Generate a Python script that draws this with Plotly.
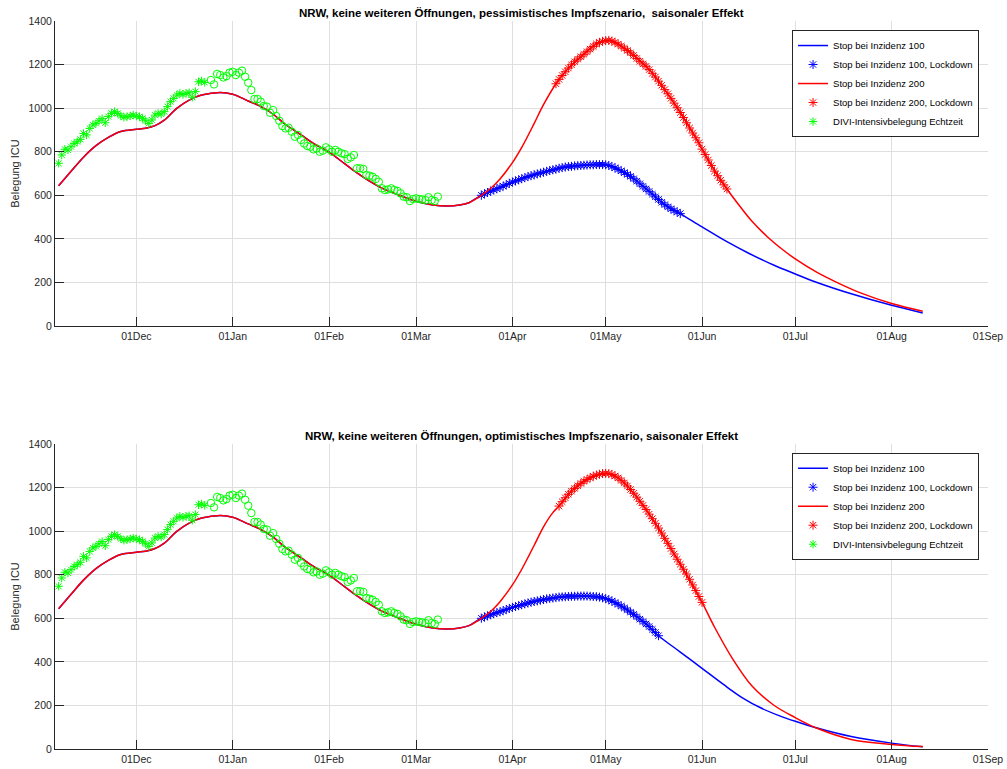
import pandas as pd
import plotly.graph_objects as go

# ---------------- data ----------------
# DIVI real-time ICU occupancy NRW (daily values)
divi_star_start = "2020-11-06"
divi_star = [747, 785, 811, 808, 823, 838, 846, 857, 884, 877, 907, 923, 930, 942, 952,
             933, 961, 976, 984, 976, 965, 958, 961, 964, 968,
             964, 961, 953, 942, 930, 946, 968, 976, 973, 984, 1007, 1030, 1045, 1060,
             1068, 1063, 1068, 1071, 1050, 1076, 1121, 1125, 1118]
divi_circle_start = "2020-12-25"
divi_circle = [1129, 1109, 1157, 1152, 1141, 1147, 1163, 1167,
               1152, 1163, 1172, 1144, 1117, 1083, 1042, 1042, 1030, 1010, 1007, 979, 991,
               964, 942, 918, 907, 910, 892, 869, 877, 854, 838, 826, 823, 811, 815, 800,
               805, 820,
               811, 800, 808, 800, 793, 789, 767, 774, 785, 724, 724, 721, 693, 690, 685,
               675, 662, 632, 624, 627, 632, 624, 620, 609, 594, 591, 574, 583,
               586, 583, 581, 578, 591, 578, 574, 594]

# shared model path (both scenarios) until the split
base_dates = ["2020-11-06", "2020-11-10", "2020-11-14", "2020-11-18", "2020-11-22",
              "2020-11-26", "2020-12-01", "2020-12-04", "2020-12-07", "2020-12-10",
              "2020-12-14", "2020-12-18", "2020-12-22", "2020-12-28", "2021-01-01",
              "2021-01-06", "2021-01-10", "2021-01-14", "2021-01-18", "2021-01-23",
              "2021-01-27", "2021-02-01", "2021-02-06", "2021-02-10", "2021-02-14",
              "2021-02-18", "2021-02-24", "2021-03-01", "2021-03-06", "2021-03-11",
              "2021-03-15", "2021-03-18", "2021-03-22"]
base_vals = [644, 710, 775, 828, 866, 893, 903, 908, 920, 945, 999, 1037, 1060, 1072, 1064,
             1033, 1008, 972, 925, 877, 838, 798, 745, 703, 665, 633, 598, 573, 557, 551,
             555, 566, 600]

# ---- pessimistic vaccination scenario ----
pess100_dates = ["2021-03-28", "2021-04-04", "2021-04-10", "2021-04-16", "2021-04-22",
                 "2021-04-28", "2021-05-02", "2021-05-06", "2021-05-10", "2021-05-15",
                 "2021-05-20", "2021-05-25", "2021-06-01", "2021-06-09", "2021-06-16",
                 "2021-06-24", "2021-07-01", "2021-07-08", "2021-07-19", "2021-08-01",
                 "2021-08-11"]
pess100_vals = [636, 676, 702, 724, 736, 741, 737, 712, 676, 618, 557, 516, 455, 387, 334,
                280, 239, 200, 148, 95, 60]
pess200_dates = ["2021-03-24", "2021-03-26", "2021-03-28", "2021-04-01", "2021-04-04",
                 "2021-04-08", "2021-04-11", "2021-04-15", "2021-04-18", "2021-04-23",
                 "2021-04-28", "2021-05-02", "2021-05-06", "2021-05-10", "2021-05-15",
                 "2021-05-20", "2021-05-25", "2021-05-30", "2021-06-04", "2021-06-09",
                 "2021-06-13", "2021-06-17", "2021-06-22", "2021-06-27", "2021-07-01",
                 "2021-07-08", "2021-07-15", "2021-07-22", "2021-08-01", "2021-08-11"]
pess200_vals = [620, 645, 675, 750, 820, 930, 1016, 1112, 1167, 1236, 1295, 1311, 1285,
                1242, 1177, 1085, 980, 864, 737, 629, 553, 482, 410, 350, 308, 246, 196,
                152, 103, 68]
pess100_lock_start = "2021-03-22"
pess100_lock = [600, 607, 613, 619, 625, 630, 636, 642, 648, 655,
                661, 666, 671, 676, 681, 686, 690, 694, 698, 702, 706, 710, 714, 717, 720,
                724, 727, 730, 732, 733, 735, 736, 737, 738, 739, 740, 740, 741, 741, 741,
                740, 737, 732, 726, 719, 712, 704, 696, 687, 676, 665, 653, 641, 629, 618,
                605, 593, 581, 568, 557, 547, 538, 530, 523, 516]
pess200_lock_start = "2021-04-15"
pess200_lock = [1112, 1132, 1150, 1167, 1184, 1199, 1213, 1225, 1236, 1247, 1259, 1271,
                1283, 1295, 1302, 1307,
                1310, 1311, 1308, 1302, 1294, 1285, 1275, 1265, 1254, 1242, 1228, 1215,
                1203, 1192, 1177, 1160, 1143, 1124, 1105, 1085, 1066, 1045, 1023, 1002,
                980, 957, 933, 909, 886, 864, 841,
                812, 787, 762, 737, 711, 690, 669, 648, 629]

# ---- optimistic vaccination scenario ----
opt100_dates = ["2021-03-28", "2021-04-04", "2021-04-10", "2021-04-16", "2021-04-23",
                "2021-04-28", "2021-05-02", "2021-05-06", "2021-05-10", "2021-05-14",
                "2021-05-18", "2021-05-25", "2021-06-01", "2021-06-08", "2021-06-14",
                "2021-06-20", "2021-06-26", "2021-07-01", "2021-07-08", "2021-07-19",
                "2021-08-01", "2021-08-11"]
opt100_vals = [630, 662, 683, 697, 702, 699, 685, 656, 618, 574, 520, 445, 370, 295, 235,
               188, 152, 127, 96, 57, 27, 10]
opt200_dates = ["2021-03-24", "2021-03-26", "2021-03-28", "2021-04-01", "2021-04-04",
                "2021-04-08", "2021-04-11", "2021-04-14", "2021-04-16", "2021-04-20",
                "2021-04-25", "2021-05-01", "2021-05-05", "2021-05-10", "2021-05-15",
                "2021-05-20", "2021-05-25", "2021-06-01", "2021-06-05", "2021-06-11",
                "2021-06-17", "2021-06-24", "2021-07-01", "2021-07-08", "2021-07-19",
                "2021-08-01", "2021-08-11"]
opt200_vals = [620, 645, 676, 753, 825, 935, 1020, 1085, 1115, 1183, 1237, 1265, 1244,
               1174, 1078, 967, 848, 673, 560, 410, 290, 202, 144, 95, 44, 21, 11]
opt100_lock_start = "2021-03-22"
opt100_lock = [600, 606, 611, 616, 621, 626, 630, 635, 640, 645,
               650, 654, 658, 662, 666, 670, 674, 677, 680, 683, 686, 689, 691, 693, 695,
               697, 698, 699, 700, 701, 701, 702, 702, 702, 702, 701, 700, 699, 697, 694,
               690, 685, 679, 672, 664, 656, 647, 638, 628, 618, 607, 596, 585, 574, 562,
               549, 535, 520]
opt200_lock_start = "2021-04-16"
opt200_lock = [1115, 1135, 1153, 1169, 1183, 1196, 1208, 1219, 1229, 1237, 1245, 1252,
               1257, 1261, 1264,
               1265, 1264, 1260, 1253, 1244, 1233, 1221, 1207, 1191, 1174, 1156, 1137,
               1118, 1099, 1078, 1057, 1036, 1014, 991, 967, 944, 920, 895, 871, 848, 825,
               803, 779, 753, 727, 700,
               673]

tick_dates = ["2020-12-01", "2021-01-01", "2021-02-01", "2021-03-01", "2021-04-01",
              "2021-05-01", "2021-06-01", "2021-07-01", "2021-08-01", "2021-09-01"]
tick_labels = ["01Dec", "01Jan", "01Feb", "01Mar", "01Apr", "01May", "01Jun", "01Jul",
               "01Aug", "01Sep"]
y_ticks = [0, 200, 400, 600, 800, 1000, 1200, 1400]

title_top = "NRW, keine weiteren Öffnungen, pessimistisches Impfszenario,  saisonaler Effekt"
title_bottom = "NRW, keine weiteren Öffnungen, optimistisches Impfszenario, saisonaler Effekt"

# ---------------- figure ----------------
FONT = "Liberation Sans, Arial, Helvetica, sans-serif"
BLUE, RED, GREEN = "#0000ff", "#ff0000", "#00ff00"
AXC = "#262626"
GRID = "#dfdfdf"

fig = go.Figure()


def daily(start, vals):
    return pd.date_range(start, periods=len(vals), freq="D")


def add_panel(xa, ya, leg, d100, v100, d200, v200, s100_start, s100, s200_start, s200):
    common = dict(xaxis=xa, yaxis=ya, legend=leg)
    fig.add_trace(go.Scatter(x=base_dates + d100, y=base_vals + v100, mode="lines",
                             line=dict(color=BLUE, width=1.5, shape="spline"),
                             name="Stop bei Inzidenz 100", **common))
    fig.add_trace(go.Scatter(x=daily(s100_start, s100), y=s100, mode="markers",
                             marker=dict(symbol="asterisk-open", size=7.5, color=BLUE,
                                         line=dict(color=BLUE, width=1)),
                             name="Stop bei Inzidenz 100, Lockdown", **common))
    fig.add_trace(go.Scatter(x=base_dates + d200, y=base_vals + v200, mode="lines",
                             line=dict(color=RED, width=1.5, shape="spline"),
                             name="Stop bei Inzidenz 200", **common))
    fig.add_trace(go.Scatter(x=daily(s200_start, s200), y=s200, mode="markers",
                             marker=dict(symbol="asterisk-open", size=7.5, color=RED,
                                         line=dict(color=RED, width=1)),
                             name="Stop bei Inzidenz 200, Lockdown", **common))
    fig.add_trace(go.Scatter(x=daily(divi_star_start, divi_star), y=divi_star,
                             mode="markers",
                             marker=dict(symbol="asterisk-open", size=7, color=GREEN,
                                         line=dict(color=GREEN, width=1)),
                             name="DIVI-Intensivbelegung Echtzeit", **common))
    fig.add_trace(go.Scatter(x=daily(divi_circle_start, divi_circle), y=divi_circle,
                             mode="markers",
                             marker=dict(symbol="circle-open", size=7.5, color=GREEN,
                                         line=dict(color=GREEN, width=1)),
                             name="DIVI-Intensivbelegung", showlegend=False, **common))


add_panel("x", "y", "legend", pess100_dates, pess100_vals, pess200_dates, pess200_vals,
          pess100_lock_start, pess100_lock, pess200_lock_start, pess200_lock)
add_panel("x2", "y2", "legend2", opt100_dates, opt100_vals, opt200_dates, opt200_vals,
          opt100_lock_start, opt100_lock, opt200_lock_start, opt200_lock)

xaxis_style = dict(type="date", range=["2020-11-04 20:00", "2021-09-01"],
                   tickmode="array", tickvals=tick_dates, ticktext=tick_labels,
                   ticks="inside", ticklen=9, tickwidth=1, tickcolor=AXC,
                   showline=True, linecolor=AXC, linewidth=1, mirror=False,
                   showgrid=True, gridcolor=GRID, gridwidth=1, zeroline=False,
                   automargin=False,
                   tickfont=dict(family=FONT, size=10.5, color=AXC))
yaxis_style = dict(range=[0, 1400], tickmode="array", tickvals=y_ticks,
                   ticks="inside", ticklen=9, tickwidth=1, tickcolor=AXC,
                   showline=True, linecolor=AXC, linewidth=1, mirror=False,
                   showgrid=True, gridcolor=GRID, gridwidth=1, zeroline=False,
                   automargin=False,
                   tickfont=dict(family=FONT, size=10.5, color=AXC),
                   title=dict(text="Belegung ICU", standoff=6,
                              font=dict(family=FONT, size=11, color=AXC)))

legend_style = dict(x=0.9904, xanchor="right", bgcolor="white", bordercolor=AXC,
                    borderwidth=1, font=dict(family=FONT, size=9.5, color="black"),
                    tracegroupgap=0, itemwidth=30)

top_lo, bot_hi = 0.581, 0.419

fig.update_layout(
    width=1007, height=769,
    margin=dict(l=55, r=19, t=21, b=20, autoexpand=False),
    paper_bgcolor="white", plot_bgcolor="white",
    xaxis=dict(domain=[0, 1], anchor="y", **xaxis_style),
    yaxis=dict(domain=[top_lo, 1], anchor="x", **yaxis_style),
    xaxis2=dict(domain=[0, 1], anchor="y2", **xaxis_style),
    yaxis2=dict(domain=[0, bot_hi], anchor="x2", **yaxis_style),
    legend=dict(y=0.9876, yanchor="top", **legend_style),
    legend2=dict(y=0.407, yanchor="top", **legend_style),
    annotations=[
        dict(text="<b>" + title_top + "</b>", x=0.5, y=1, xref="paper", yref="paper",
             xanchor="center", yanchor="bottom", showarrow=False,
             font=dict(family=FONT, size=11.5, color="black")),
        dict(text="<b>" + title_bottom + "</b>", x=0.5, y=bot_hi, xref="paper",
             yref="paper", xanchor="center", yanchor="bottom", showarrow=False,
             font=dict(family=FONT, size=11.5, color="black")),
    ],
    showlegend=True,
)

# remove the browser's default 8px page margin so the figure sits at the window origin
fig.write_html("out.html",
               config={"displayModeBar": False},
               post_script="document.body.style.margin='0';"
                           "document.body.style.overflow='hidden';")
